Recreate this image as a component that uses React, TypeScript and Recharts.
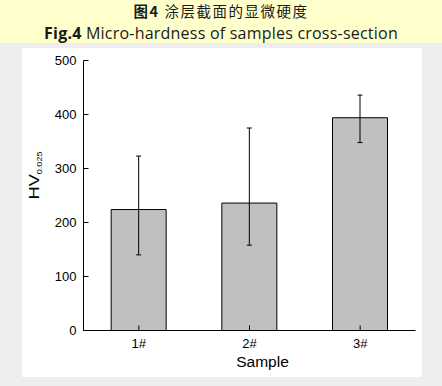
import React from 'react';
import { BarChart, Bar, XAxis, YAxis, ErrorBar, Label } from 'recharts';

const samples = ['1#', '2#', '3#'];
const hardness = [224, 236, 394];
const errLow = [84, 78, 46];
const errHigh = [99, 139, 42];
const yTicks = [0, 100, 200, 300, 400, 500];

const data = samples.map((s, i) => ({
  sample: s,
  hv: hardness[i],
  err: [errLow[i], errHigh[i]],
}));

const AXIS_FONT = '"Liberation Sans", Arial, sans-serif';
const TICK_GAP = 8;

const YTick = (props: any) => {
  const { x, y, payload } = props;
  return (
    <g>
      <line x1={x + 7} y1={y} x2={x + 12} y2={y} stroke="#000" />
      <text x={x} y={y} dy="0.35em" textAnchor="end" fontSize={13} fontFamily={AXIS_FONT} fill="#000">
        {payload.value}
      </text>
    </g>
  );
};

const XTick = (props: any) => {
  const { x, y, payload } = props;
  return (
    <g>
      <line x1={x} y1={y - TICK_GAP} x2={x} y2={y - TICK_GAP - 5} stroke="#000" />
      <text x={x} y={y} dy="0.71em" textAnchor="middle" fontSize={13} fontFamily={AXIS_FONT} fill="#000">
        {payload.value}
      </text>
    </g>
  );
};

// HV label in the source is stretched along its length, hence the scale
const YLabel = (props: any) => {
  const vb = props.viewBox;
  const cx = vb.x + 16;
  const cy = vb.y + vb.height / 2 - 20;
  return (
    <text
      transform={`translate(${cx}, ${cy}) rotate(-90) scale(1.3, 1)`}
      x={0}
      y={0}
      textAnchor="middle"
      fontSize={14}
      fontFamily={AXIS_FONT}
      fill="#000"
    >
      HV
      <tspan fontSize={7} dy={3.5}>0.025</tspan>
    </text>
  );
};

const XLabel = (props: any) => {
  const vb = props.viewBox;
  return (
    <text
      x={vb.x + vb.width / 2 + 13}
      y={vb.y + vb.height - 10.5}
      textAnchor="middle"
      fontSize={15.5}
      fontFamily={AXIS_FONT}
      fill="#000"
    >
      Sample
    </text>
  );
};

export default function App() {
  return (
    <div style={{ position: 'absolute', left: 0, top: 0, width: 442, height: 386, background: '#eeeeee' }}>
      <svg width={442} height={43} style={{ position: 'absolute', left: 0, top: 0, background: '#ffffcc' }}>
        <text x={221} y={17.2} textAnchor="middle" fontSize={14.5} letterSpacing={1.5} fill="#1a1a1a"
          fontFamily='"Noto Sans CJK SC", "Open Sans", sans-serif'>
          <tspan fontWeight="bold">图4</tspan>
          <tspan> 涂层截面的显微硬度</tspan>
        </text>
        <text x={221} y={38.6} textAnchor="middle" fontSize={16} letterSpacing={0.22} fill="#1a1a1a"
          fontFamily='"Open Sans", sans-serif'>
          <tspan fontWeight="bold">Fig.4</tspan>
          <tspan> Micro-hardness of samples cross-section</tspan>
        </text>
      </svg>
      <div style={{ position: 'absolute', left: 22, top: 48, width: 400, height: 329, background: '#fff' }}>
        <BarChart
          width={400}
          height={329}
          data={data}
          margin={{ top: 12.5, right: 6.5, bottom: 0, left: 0.5 }}
          barCategoryGap="25%"
        >
          <XAxis
            dataKey="sample"
            height={46.5}
            tickSize={0}
            tickMargin={TICK_GAP}
            tickLine={false}
            axisLine={{ stroke: '#000', strokeWidth: 1 }}
            tick={<XTick />}
          >
            <Label content={<XLabel />} />
          </XAxis>
          <XAxis
            xAxisId="top"
            dataKey="sample"
            orientation="top"
            height={0}
            tick={false}
            tickLine={false}
            axisLine={{ stroke: '#000', strokeWidth: 1 }}
          />
          <YAxis
            width={61}
            domain={[0, 500]}
            ticks={yTicks}
            tickSize={0}
            tickMargin={7}
            tickLine={false}
            axisLine={{ stroke: '#000', strokeWidth: 1 }}
            tick={<YTick />}
          >
            <Label content={<YLabel />} />
          </YAxis>
          <YAxis
            yAxisId="right"
            orientation="right"
            width={0}
            domain={[0, 500]}
            tick={false}
            tickLine={false}
            axisLine={{ stroke: '#000', strokeWidth: 1 }}
          />
          <Bar dataKey="hv" fill="#c0c0c0" stroke="#000" strokeWidth={1} isAnimationActive={false}>
            <ErrorBar dataKey="err" direction="y" width={2.5} stroke="#000" strokeWidth={1} isAnimationActive={false} />
          </Bar>
        </BarChart>
      </div>
    </div>
  );
}
